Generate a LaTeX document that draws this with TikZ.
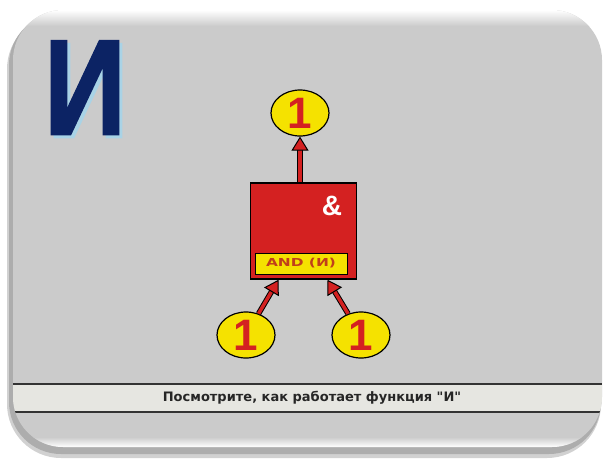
\documentclass[tikz,border=0pt]{standalone}
\usepackage{fontspec}
\usepackage{graphicx}
\setmainfont{Liberation Sans}
\newfontfamily\titlefont[FakeBold=2]{Liberation Sans}
\newfontfamily\widefont{DejaVu Sans}
\usetikzlibrary{arrows.meta,shapes.geometric}

\definecolor{panelgray}{HTML}{CBCBCB}
\definecolor{barwhite}{HTML}{E6E6E1}
\definecolor{gatered}{HTML}{D42121}
\definecolor{bityellow}{HTML}{F5E200}
\definecolor{navy}{HTML}{0C2364}
\definecolor{iceblue}{HTML}{A9D3E6}
\definecolor{labelred}{HTML}{C0401A}

\tikzset{
    bit/.style={ellipse, draw=black, line width=1.2pt, fill=bityellow,
        minimum width=58pt, minimum height=46pt, inner sep=0pt,
        text=gatered, font=\fontsize{44}{44}\selectfont\bfseries},
    wire/.style={draw=gatered, line width=3.5pt,
        -{Triangle[length=14pt,width=17pt,color=black,fill=gatered,line width=1pt]},
        preaction={draw=black, line width=5.5pt, shorten >=10pt, -}}
}

\begin{document}
\begin{tikzpicture}[x=1pt, y=-1pt]

    \useasboundingbox (0,0) rectangle (603,459);

    % Panel with shadow
    \fill[black!18, rounded corners=54pt] (7,15) rectangle (601,458);
    \fill[black!32, rounded corners=52pt] (9,13) rectangle (601,454);
    \fill[panelgray, rounded corners=50pt] (13,10) rectangle (602,447);
    \begin{scope}
        \clip[rounded corners=50pt] (13,10) rectangle (602,447);
        \shade[top color=white, bottom color=panelgray] (13,10) rectangle (602,26);
        \shade[top color=panelgray, bottom color=white] (13,437) rectangle (602,447);
        % Caption bar
        \fill[barwhite] (13,384) rectangle (603,412);
        \draw[black!80, line width=1.3pt] (13,384) -- (603,384);
        \draw[black!80, line width=1.3pt] (13,412) -- (603,412);
    \end{scope}

    % Title letter
    \node[anchor=base, text=iceblue, font=\fontsize{135}{135}\selectfont\titlefont\bfseries]
        (titleshadow) at (88,137) {\scalebox{0.84}[1]{И}};
    \node[anchor=base, text=navy, font=\fontsize{135}{135}\selectfont\titlefont\bfseries]
        (title) at (85,134) {\scalebox{0.84}[1]{И}};

    % Gate
    \node[draw=black, line width=1.5pt, fill=gatered,
        minimum width=106pt, minimum height=96pt] (gate) at (303.5,231) {};
    \node[text=white, font=\fontsize{28}{28}\selectfont\bfseries]
        (amp) at (332,206) {\&};
    \node[draw=black, line width=1pt, fill=bityellow, minimum width=92pt,
        minimum height=21pt, inner sep=0pt, text=labelred,
        font=\fontsize{11}{11}\selectfont\widefont\bfseries] (andlabel) at (301,263.5)
        {\scalebox{1.4}[1]{AND (И)}};

    % Inputs and output
    \node[bit] (out) at (300,113) {1};
    \node[bit] (inA) at (246,335) {1};
    \node[bit] (inB) at (361,335) {1};

    \draw[wire] (out |- gate.north) -- (out);
    \draw[wire] (inA) -- ([xshift=-25pt]gate.south);
    \draw[wire] (inB) -- ([xshift=24pt]gate.south);

    % Caption
    \node[font=\fontsize{13}{15}\selectfont\widefont\bfseries, text=black!85]
        (caption) at (312,398) {Посмотрите, как работает функция {\char34}И{\char34}};

\end{tikzpicture}
\end{document}
